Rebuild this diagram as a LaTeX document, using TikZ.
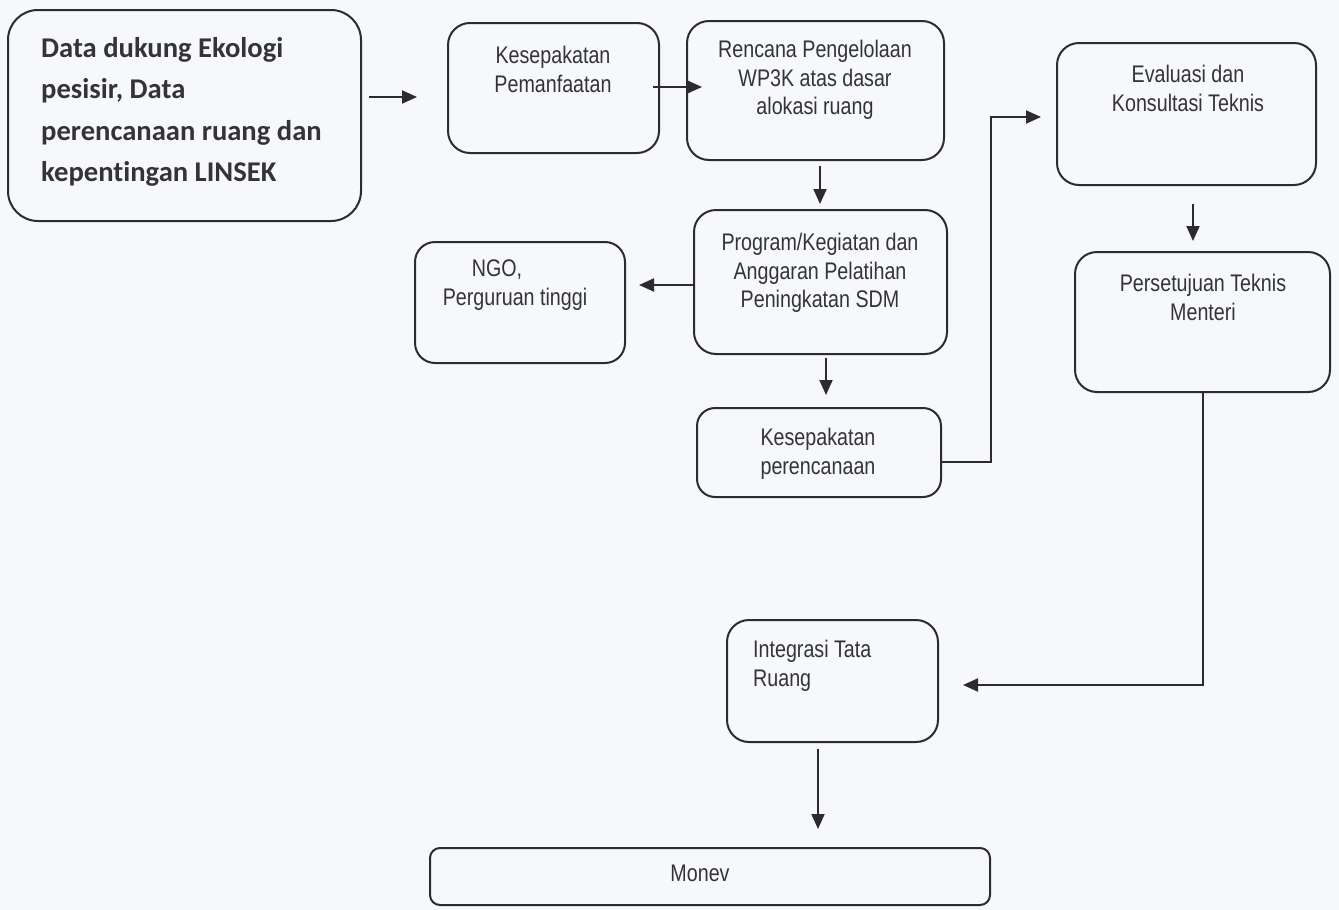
\documentclass[tikz,border=0pt]{standalone}
\usepackage{fontspec}
\setmainfont{Liberation Sans}[FakeStretch=0.82]
\newfontfamily\boxfont{Carlito}[RawFeature={-liga;-clig;-dlig;-calt}]
\usetikzlibrary{arrows.meta,calc}
\definecolor{paper}{RGB}{246,248,249}
\definecolor{ink}{RGB}{44,44,46}
\definecolor{txtc}{RGB}{52,52,54}

\begin{document}
\begin{tikzpicture}[x=1pt,y=-1pt,
  box/.style={draw=ink, line width=2pt, rounded corners=22pt, inner sep=0pt},
  lbl/.style={inner sep=0pt, anchor=north, align=center, text=txtc,
              font=\fontsize{24}{28.5}\selectfont},
  arr/.style={draw=ink, line width=2pt, -{Triangle[length=15pt,width=13pt]}},
]
% page
\fill[paper] (0,0) rectangle (1339,910);
\useasboundingbox (0,0) rectangle (1339,910);

% boxes
\node[box, rounded corners=30pt, minimum width=353, minimum height=211] (A) at (184.5,115.5) {};
\node[box, minimum width=211, minimum height=130] (B) at (553.5,88) {};
\node[box, minimum width=257, minimum height=139] (C) at (815.5,90.5) {};
\node[box, rounded corners=20pt, minimum width=210, minimum height=121] (N) at (520,302.5) {};
\node[box, minimum width=253, minimum height=144] (D) at (820.5,282) {};
\node[box, rounded corners=18pt, minimum width=244, minimum height=89] (E) at (819,452.5) {};
\node[box, minimum width=259, minimum height=142] (F) at (1186.5,114) {};
\node[box, minimum width=255, minimum height=140] (G) at (1202.5,322) {};
\node[box, minimum width=211, minimum height=122] (H) at (832.5,681) {};
\node[box, rounded corners=10pt, minimum width=560, minimum height=57] (I) at (710,876.5) {};

% texts (plain t + i, no ligature)
\node[anchor=north west, align=left, inner sep=0pt, text=txtc,
      font=\boxfont\bfseries\fontsize{28.6}{41.5}\selectfont] (At) at (41,37)
  {Data dukung Ekologi\\pesisir, Data\\perencanaan ruang dan\\kepent\kern0pt ingan LINSEK};
\node[lbl] (Bt) at (553,46) {Kesepakatan\\Pemanfaatan};
\node[lbl] (Ct) at (815,40) {Rencana Pengelolaan\\WP3K atas dasar\\alokasi ruang};
\node[lbl] (Dt) at (820,233) {Program/Kegiatan dan\\Anggaran Pelatihan\\Peningkatan SDM};
\node[lbl] (Nt) at (515,260) {NGO,\hspace*{36pt}\\Perguruan tinggi};
\node[lbl] (Et) at (818,428) {Kesepakatan\\perencanaan};
\node[lbl] (Ft) at (1188,65) {Evaluasi dan\\Konsultasi Teknis};
\node[lbl] (Gt) at (1203,274) {Persetujuan Teknis\\Menteri};
\node[lbl, anchor=north west, align=left] (Ht) at (753,640) {Integrasi Tata\\Ruang};
\node[lbl] (It) at (700,865) {Monev};

% connectors
\draw[arr] ($(A.east |- 0,97)+(7,0)$) -- ($(B.west |- 0,97)+(-30,0)$);
\draw[arr] ($(B.east |- 0,87)+(-7,0)$) -- ($(C.west |- 0,87)+(16,0)$);
\draw[arr] ($(C.south -| 820,0)+(0,5)$) -- ($(D.north -| 820,0)+(0,-5)$);
\draw[arr] (D.west |- 0,285) -- ($(N.east |- 0,285)+(13,0)$);
\draw[arr] ($(D.south -| 826,0)+(0,3)$) -- ($(E.north -| 826,0)+(0,-12)$);
\draw[arr] (E.east |- 0,462) -| ($(F.west |- 0,117)+(-65,0)$) -- ($(F.west |- 0,117)+(-15,0)$);
\draw[arr] ($(F.south -| 1193,0)+(0,18)$) -- ($(G.north -| 1193,0)+(0,-10)$);
\draw[arr] (G.south) |- ($(H.east |- 0,685)+(24,0)$);
\draw[arr] ($(H.south -| 818,0)+(0,6)$) -- ($(I.north -| 818,0)+(0,-18)$);
\end{tikzpicture}
\end{document}
